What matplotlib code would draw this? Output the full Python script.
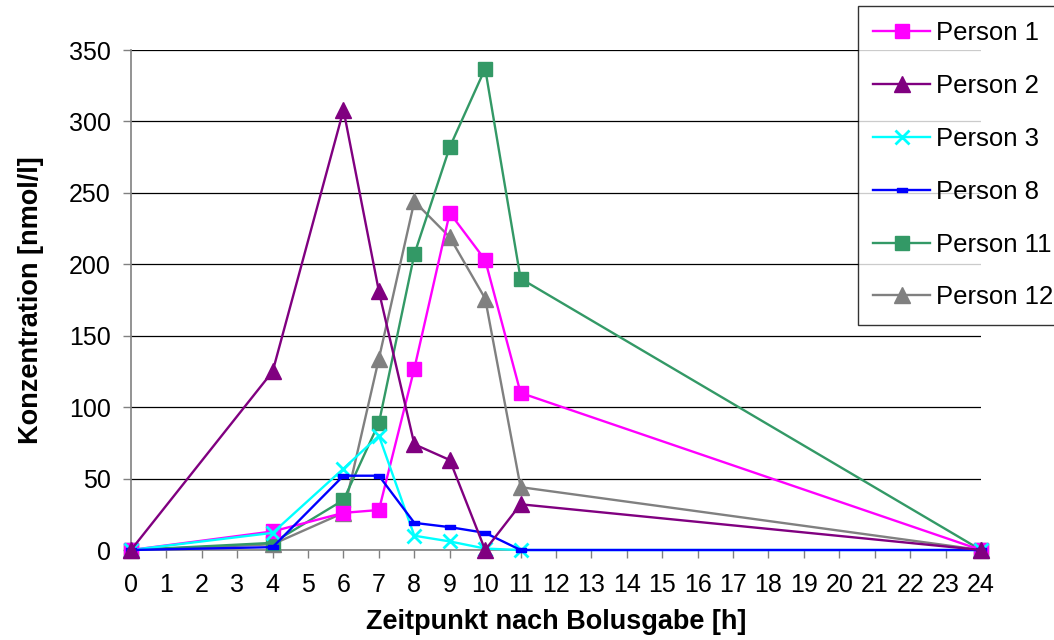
import matplotlib
matplotlib.use("Agg")
import matplotlib.pyplot as plt
from matplotlib.path import Path

plt.rcParams['font.family'] = ['Liberation Sans', 'DejaVu Sans']

# Sampling times (hours after bolus)
hours = [0, 4, 6, 7, 8, 9, 10, 11, 24]

person_1 = [0, 13, 26, 28, 127, 236, 203, 110, 0]
person_2 = [0, 125, 308, 181, 74, 63, 0, 32, 0]
person_3 = [0, 12, 57, 80, 10, 6, 1, 0, 0]
person_8 = [0, 2, 52, 52, 19, 16, 12, 0, 0]
person_11 = [0, 5, 35, 89, 207, 282, 337, 190, 0]
person_12 = [0, 4, 26, 134, 244, 219, 176, 44, 0]

series_names = ["Person 1", "Person 2", "Person 3", "Person 8", "Person 11", "Person 12"]
x_ticks = list(range(0, 25))
y_ticks = [0, 50, 100, 150, 200, 250, 300, 350]

dash_marker = Path([(-1, -0.45), (1, -0.45), (1, 0.45), (-1, 0.45), (-1, -0.45)],
                   [Path.MOVETO, Path.LINETO, Path.LINETO, Path.LINETO, Path.CLOSEPOLY])

styles = [
    dict(color="#FF00FF", marker="s", markersize=10, zorder=4),
    dict(color="#800080", marker="^", markersize=11, zorder=8),
    dict(color="#00FFFF", marker="x", markersize=10, markeredgewidth=2, zorder=5),
    dict(color="#0000FF", marker=dash_marker, markersize=7, zorder=6),
    dict(color="#339966", marker="s", markersize=10, zorder=3),
    dict(color="#808080", marker="^", markersize=11, zorder=2),
]

fig = plt.figure(figsize=(10.54, 6.4), dpi=100)
ax = fig.add_axes([131 / 1054, 1 - 550 / 640, 850 / 1054, 500 / 640])

all_series = [person_1, person_2, person_3, person_8, person_11, person_12]
for name, values, st in zip(series_names, all_series, styles):
    ax.plot(hours, values, label=name, linewidth=1.7, clip_on=False, **st)

ax.set_xlim(0, 24)
ax.set_ylim(0, 350)
ax.set_xticks(x_ticks)
ax.set_yticks(y_ticks)
ax.tick_params(axis='both', labelsize=18, direction='out', length=5.5, width=1, color="#808080")
ax.tick_params(axis='x', pad=11)
ax.tick_params(axis='y', pad=9)
ax.grid(axis='y', color='black', linewidth=0.9)
ax.set_axisbelow(True)
for s in ('top', 'right'):
    ax.spines[s].set_visible(False)
for s in ('left', 'bottom'):
    ax.spines[s].set_color('#808080')
    ax.spines[s].set_linewidth(1.2)

ax.set_xlabel("Zeitpunkt nach Bolusgabe [h]", fontsize=19.5, fontweight='bold', labelpad=9)
ax.set_ylabel("Konzentration [nmol/l]", fontsize=19.5, fontweight='bold', labelpad=18)

leg = fig.legend(loc='upper left', bbox_to_anchor=(858 / 1054, 1 - 6 / 640),
                 fontsize=18.5, frameon=True, fancybox=False, edgecolor='black',
                 borderpad=0.6, labelspacing=1.12, handlelength=2.2, handletextpad=0.25,
                 borderaxespad=0)
leg.get_frame().set_linewidth(1.0)

fig.savefig("out.png", dpi=100)
